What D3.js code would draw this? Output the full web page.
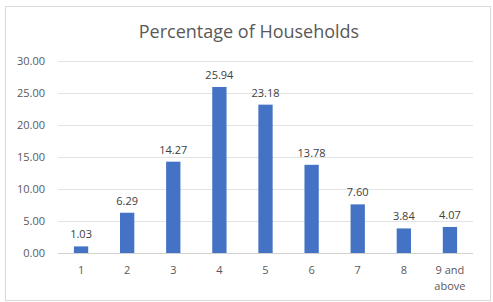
<!DOCTYPE html>
<html>
<head>
<meta charset="utf-8">
<script src="https://cdn.jsdelivr.net/npm/d3@7"></script>
<style>
  body { margin: 0; background: #fff; }
  text { font-family: "Open Sans", "Noto Sans", sans-serif; }
</style>
</head>
<body>
<div id="chart"></div>
<script>
// household size categories and share of households
var categories = ["1", "2", "3", "4", "5", "6", "7", "8", "9 and above"];
var percentages = [1.03, 6.29, 14.27, 25.94, 23.18, 13.78, 7.60, 3.84, 4.07];
var yTicks = [0, 5, 10, 15, 20, 25, 30];

var W = 493, H = 302;
var margin = {top: 61, right: 20, bottom: 49, left: 58};
var width = W - margin.left - margin.right,
    height = H - margin.top - margin.bottom;

var svg = d3.select("#chart")
  .append("svg")
  .attr("width", W)
  .attr("height", H);

// chart border
svg.append("rect")
  .attr("x", 5.5).attr("y", 6.5)
  .attr("width", 485).attr("height", 294)
  .attr("fill", "#fff")
  .attr("stroke", "#d9d9d9");

svg.append("text")
  .attr("x", 249).attr("y", 38)
  .attr("text-anchor", "middle")
  .attr("font-size", 18)
  .attr("fill", "#595959")
  .text("Percentage of Households");

var g = svg.append("g")
  .attr("transform", `translate(${margin.left}, ${margin.top})`);

var x = d3.scaleBand()
  .domain(categories)
  .range([0, width])
  .paddingInner(0.69)
  .paddingOuter(0.345);

var y = d3.scaleLinear()
  .domain([0, 30])
  .range([height, 0]);

// gridlines
g.selectAll("line.grid")
  .data(yTicks)
  .enter()
  .append("line")
    .attr("class", "grid")
    .attr("x1", 0).attr("x2", width)
    .attr("y1", d => Math.round(y(d)) + 0.5)
    .attr("y2", d => Math.round(y(d)) + 0.5)
    .attr("stroke", d => d === 0 ? "#d0d0d0" : "#e3e3e3");

// y labels
g.selectAll("text.ytick")
  .data(yTicks)
  .enter()
  .append("text")
    .attr("x", -13)
    .attr("y", d => y(d) + 4)
    .attr("text-anchor", "end")
    .attr("font-size", 11)
    .attr("fill", "#595959")
    .text(d => d.toFixed(2));

// bars
g.selectAll("rect.bar")
  .data(percentages)
  .enter()
  .append("rect")
    .attr("class", "bar")
    .attr("x", (d, i) => x(categories[i]))
    .attr("y", d => y(d))
    .attr("width", x.bandwidth())
    .attr("height", d => height - y(d))
    .attr("fill", "#4472c4");

// value labels
g.selectAll("text.val")
  .data(percentages)
  .enter()
  .append("text")
    .attr("x", (d, i) => x(categories[i]) + x.bandwidth() / 2)
    .attr("y", d => y(d) - 8)
    .attr("text-anchor", "middle")
    .attr("font-size", 11)
    .attr("fill", "#404040")
    .text(d => d.toFixed(2));

// x labels
var xl = g.selectAll("text.xtick")
  .data(categories)
  .enter()
  .append("text")
    .attr("x", d => x(d) + x.bandwidth() / 2)
    .attr("y", height + 21)
    .attr("text-anchor", "middle")
    .attr("font-size", 11)
    .attr("fill", "#595959");

xl.each(function(d) {
  var parts = d === "9 and above" ? ["9 and", "above"] : [d];
  var t = d3.select(this);
  parts.forEach(function(p, k) {
    t.append("tspan")
      .attr("x", t.attr("x"))
      .attr("dy", k === 0 ? 0 : 16)
      .text(p);
  });
});
</script>
</body>
</html>
